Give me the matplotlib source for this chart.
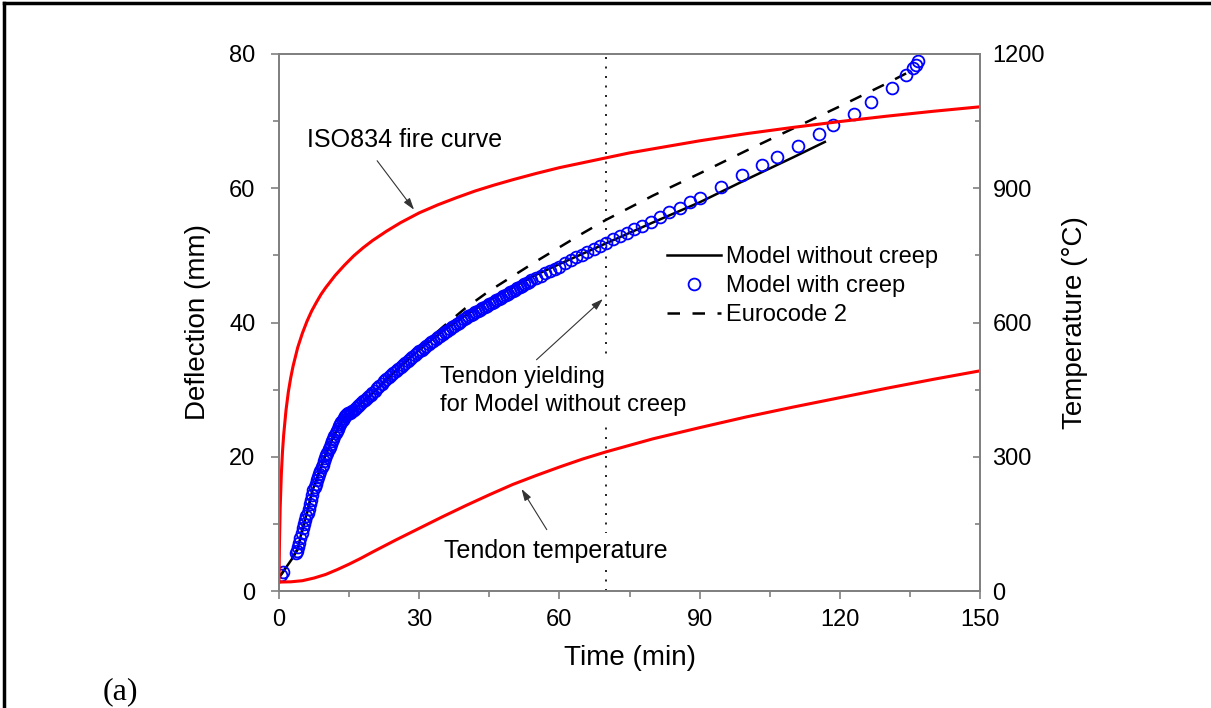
import numpy as np
import matplotlib.pyplot as plt
from matplotlib.lines import Line2D
from matplotlib.ticker import MultipleLocator

plt.rcParams['font.family'] = ['Liberation Sans', 'DejaVu Sans']

# Model without creep (black solid)
t_nocreep = [0, 1, 2, 3, 4, 5, 6, 7, 8, 9, 10, 11, 12, 13, 14, 15, 16, 18, 20, 25,
             30, 35, 40, 45, 50, 55, 60, 70, 80, 90, 100, 110, 116.8]
d_nocreep = [2.0, 3.0, 4.0, 5.0, 6.2, 9.3, 11.6, 14.6, 16.6, 18.6, 20.4, 22.0, 23.5, 24.8,
             25.8, 26.4, 27.0, 28.2, 29.4, 32.8, 35.9, 38.7, 41.1, 43.3, 45.2, 47.1, 48.7,
             51.8, 54.9, 57.9, 61.3, 64.6, 66.9]

# Model with creep (blue circles)
t_creep = [0.5, 0.9,
           3.6, 3.85, 4.1, 4.35, 4.6, 4.85, 5.1, 5.35, 5.6, 5.85, 6.1, 6.35, 6.6, 6.85,
           7.1, 7.35, 7.6, 7.85, 8.1, 8.35, 8.6, 8.85, 9.1, 9.35, 9.6, 9.85, 10.1, 10.35,
           10.6, 10.85, 11.1, 11.35, 11.6, 11.85, 12.1, 12.35, 12.6, 12.85, 13.1, 13.35,
           13.6, 13.85, 14.1, 14.35, 14.6, 14.85, 15.1, 15.4, 15.7,
           16.0, 16.4, 16.8, 17.2, 17.6, 18.0, 18.4, 18.8, 19.2, 19.6, 20.0, 20.5, 21.0,
           21.5, 22.0, 22.5, 23.0, 23.5, 24.0, 24.5, 25.0, 25.5, 26.0, 26.5, 27.0, 27.5,
           28.0, 28.5, 29.0, 29.5, 30.0, 30.5, 31.0, 31.5, 32.0, 32.5, 33.0, 33.5, 34.0,
           34.5, 35.0, 35.5, 36.0, 36.5, 37.0, 37.5, 38.0, 38.5, 39.0, 39.5, 40.0, 40.5,
           41.0, 41.5, 42.0, 42.5, 43.0, 43.5, 44.0, 44.5, 45.0, 45.5, 46.0, 46.5, 47.0,
           47.5, 48.0, 48.5, 49.0, 49.5, 50.0, 50.5, 51.0, 51.5, 52.0, 52.5, 53.0, 53.5,
           54.0, 55.0, 56.0, 57.0, 58.0, 59.0, 60.0,
           61.2, 62.4, 63.6, 64.8, 66.0, 67.3, 68.6, 70.0, 71.5, 73.0, 74.5, 76.0, 77.7,
           79.5, 81.5, 83.5, 85.7, 88.0, 90.1,
           94.5, 99.0, 103.4, 106.6, 111.1, 115.6, 118.6, 123.1, 126.6, 131.1, 134.2,
           135.7, 136.3, 136.8]
d_creep = [2.4, 2.9,
           5.6, 6.0, 6.6, 7.2, 7.9, 8.6, 9.4, 10.0, 10.6, 11.1, 11.6, 12.2, 12.9, 13.6,
           14.3, 15.0, 15.5, 16.0, 16.5, 17.0, 17.4, 17.9, 18.4, 18.8, 19.3, 19.8, 20.2,
           20.6, 21.1, 21.5, 21.9, 22.3, 22.7, 23.1, 23.5, 23.9, 24.2, 24.6, 24.9, 25.2,
           25.5, 25.8, 26.0, 26.2, 26.35, 26.45, 26.55, 26.65, 26.8,
           27.0, 27.25, 27.5, 27.75, 28.0, 28.25, 28.5, 28.75, 29.0, 29.25, 29.5, 29.85,
           30.2, 30.55, 30.9, 31.25, 31.6, 31.9, 32.2, 32.5, 32.8, 33.1, 33.4, 33.7, 34.0,
           34.25, 34.5, 34.8, 35.1, 35.4, 35.7, 35.95, 36.2, 36.5, 36.8, 37.05, 37.3,
           37.55, 37.8, 38.05, 38.3, 38.55, 38.8, 39.05, 39.3, 39.55, 39.8, 40.0, 40.2,
           40.45, 40.7, 40.9, 41.1, 41.3, 41.5, 41.7, 41.9, 42.1, 42.3, 42.5, 42.7, 42.9,
           43.1, 43.3, 43.5, 43.7, 43.9, 44.1, 44.3, 44.5, 44.7, 44.9, 45.1, 45.3, 45.5,
           45.7, 45.9, 46.1, 46.3, 46.6, 47.0, 47.3, 47.6, 47.9, 48.3,
           48.9, 49.3, 49.7, 50.1, 50.5, 50.9, 51.4, 51.9, 52.4, 52.9, 53.4, 53.9, 54.4,
           55.0, 55.7, 56.4, 57.1, 57.9, 58.6,
           60.2, 61.9, 63.5, 64.7, 66.3, 68.1, 69.4, 71.1, 72.8, 75.0, 76.8, 77.9, 78.4,
           79.0]

# Eurocode 2 (black dashed)
t_ec2 = [0, 2, 4, 5, 6, 7, 8, 10, 12, 14, 15, 18, 20, 25, 30, 35, 40, 45, 50, 55, 60, 65,
         70, 80, 90, 100, 110, 120, 130, 135]
d_ec2 = [2.0, 4.0, 6.3, 9.0, 11.5, 14.5, 16.5, 20.3, 23.4, 25.8, 26.5, 28.3, 29.5, 33.0,
         36.2, 39.3, 42.2, 44.7, 46.9, 49.1, 51.2, 53.3, 55.3, 58.9, 62.2, 65.6, 68.9,
         72.2, 75.6, 77.4]

# ISO834 fire curve (red, right axis)
t_iso = [0, 0.1, 0.25, 0.5, 0.75, 1, 1.5, 2, 2.5, 3, 4, 5, 6, 7, 8, 9, 10, 12, 14, 16, 18,
         20, 23, 26, 30, 34, 38, 42, 46, 50, 55, 60, 65, 70, 75, 80, 90, 100, 110, 120,
         130, 140, 150]
T_iso = [20, 108, 185, 261, 312, 349, 404, 445, 476, 502, 544, 576, 603, 626, 645, 663,
         678, 705, 728, 749, 767, 783, 804, 823, 845, 863, 879, 894, 907, 919, 933, 946,
         957, 968, 979, 988, 1006, 1022, 1036, 1049, 1061, 1072, 1082]

# Tendon temperature (red, right axis)
t_tendon = [0, 2.5, 5, 7.5, 10, 12.5, 15, 17.5, 20, 25, 30, 35, 40, 45, 50, 55, 60, 65, 70,
            80, 90, 100, 110, 120, 130, 140, 150]
T_tendon = [20, 20.5, 23, 29, 37, 48, 60, 73, 87, 114, 140, 166, 191, 215, 238, 258, 277,
            295, 311, 340, 365, 389, 411, 432, 453, 473, 492]

t_yield = 70

fig = plt.figure(figsize=(12.11, 7.08), dpi=100)
ax = fig.add_axes([279/1211, 1-591/708, (980-279)/1211, (591-54)/708])
ax2 = ax.twinx()

# frame of the table cell
fig.add_artist(Line2D([4/1211, 4/1211], [0, 1-3/708], color='k', lw=2.5))
fig.add_artist(Line2D([4/1211, 1], [1-3/708, 1-3/708], color='k', lw=2.5))

ax.axvline(t_yield, color='k', lw=1.2, ls=(0, (1.2, 4.5)), zorder=1)

ax.plot(t_nocreep, d_nocreep, color='k', lw=1.8, zorder=3)
ax.plot(t_ec2, d_ec2, color='k', lw=1.8, ls=(0, (5, 5)), zorder=3)
ax.plot(t_creep, d_creep, ls='none', marker='o', ms=8.5, mfc='none', mec='#0000ff',
        mew=1.3, zorder=4)

ax2.plot(t_iso, T_iso, color='#ff0000', lw=2.2)
ax2.plot(t_tendon, T_tendon, color='#ff0000', lw=2.2)

ax.set_xlim(0, 150)
ax.set_ylim(0, 80)
ax2.set_ylim(0, 1200)

ax.xaxis.set_major_locator(MultipleLocator(30))
ax.xaxis.set_minor_locator(MultipleLocator(15))
ax.yaxis.set_major_locator(MultipleLocator(20))
ax.yaxis.set_minor_locator(MultipleLocator(10))
ax2.yaxis.set_major_locator(MultipleLocator(300))
ax2.yaxis.set_minor_locator(MultipleLocator(150))

gray = '#808080'
for a in (ax, ax2):
    for s in a.spines.values():
        s.set_color(gray)
        s.set_linewidth(1.3)
ax.tick_params(axis='both', which='major', direction='out', length=6, width=1.2,
               color=gray, labelsize=17, labelcolor='k')
ax.tick_params(axis='both', which='minor', direction='out', length=4, width=1.2, color=gray)
ax.tick_params(axis='y', which='major', pad=11)
ax.tick_params(axis='x', which='major', pad=7)
ax2.tick_params(axis='y', which='major', direction='in', length=5, width=1.2, color=gray,
                labelsize=17, labelcolor='k', pad=9)
ax2.tick_params(axis='y', which='minor', direction='in', length=3.5, width=1.2, color=gray)

ax.set_xlabel('Time (min)', fontsize=20)
ax.set_ylabel('Deflection (mm)', fontsize=20)
ax2.set_ylabel('Temperature (\u00b0C)', fontsize=20)
ax.xaxis.set_label_coords(0.5, -0.1)
ax.yaxis.set_label_coords(-0.097, 0.5)
ax2.yaxis.set_label_coords(1.117, 0.5)

# annotations
arrow = dict(arrowstyle='-|>,head_length=0.7,head_width=0.22', color='#333333', lw=0.8,
             shrinkA=0, shrinkB=0)
ax.text(5.9, 66.15, 'ISO834 fire curve', fontsize=18, va='baseline')
ax.annotate('', xy=(28.9, 56.8), xytext=(21.0, 64.1), arrowprops=arrow)

white = dict(facecolor='white', edgecolor='none', pad=4)
ax.text(34.45, 31.0, 'Tendon yielding', fontsize=17, va='baseline', bbox=white, zorder=2)
ax.text(34.45, 26.75, 'for Model without creep', fontsize=17, va='baseline', bbox=white,
        zorder=2)
ax.annotate('', xy=(69.3, 43.5), xytext=(55.1, 34.45), arrowprops=arrow)

ax.text(35.2, 4.97, 'Tendon temperature', fontsize=18, va='baseline', bbox=white, zorder=2)
ax.annotate('', xy=(51.9, 15.2), xytext=(57.3, 9.14), arrowprops=arrow)

handles = [Line2D([], [], color='k', lw=1.8),
           Line2D([], [], ls='none', marker='o', ms=8.5, mfc='none', mec='#0000ff', mew=1.3),
           Line2D([], [], color='k', lw=1.8, ls=(0, (5, 5)))]
labels = ['Model without creep', 'Model with creep', 'Eurocode 2']
fig.legend(handles, labels, loc='upper left', bbox_to_anchor=(667/1211, 1-246/708),
           frameon=False, fontsize=17, handlelength=2.3, handletextpad=0.2,
           labelspacing=0.3, borderpad=0, borderaxespad=0)

fig.text(103/1211, 1-699/708, '(a)', fontsize=23, family='Liberation Serif')

fig.savefig('out.png', dpi=100)
